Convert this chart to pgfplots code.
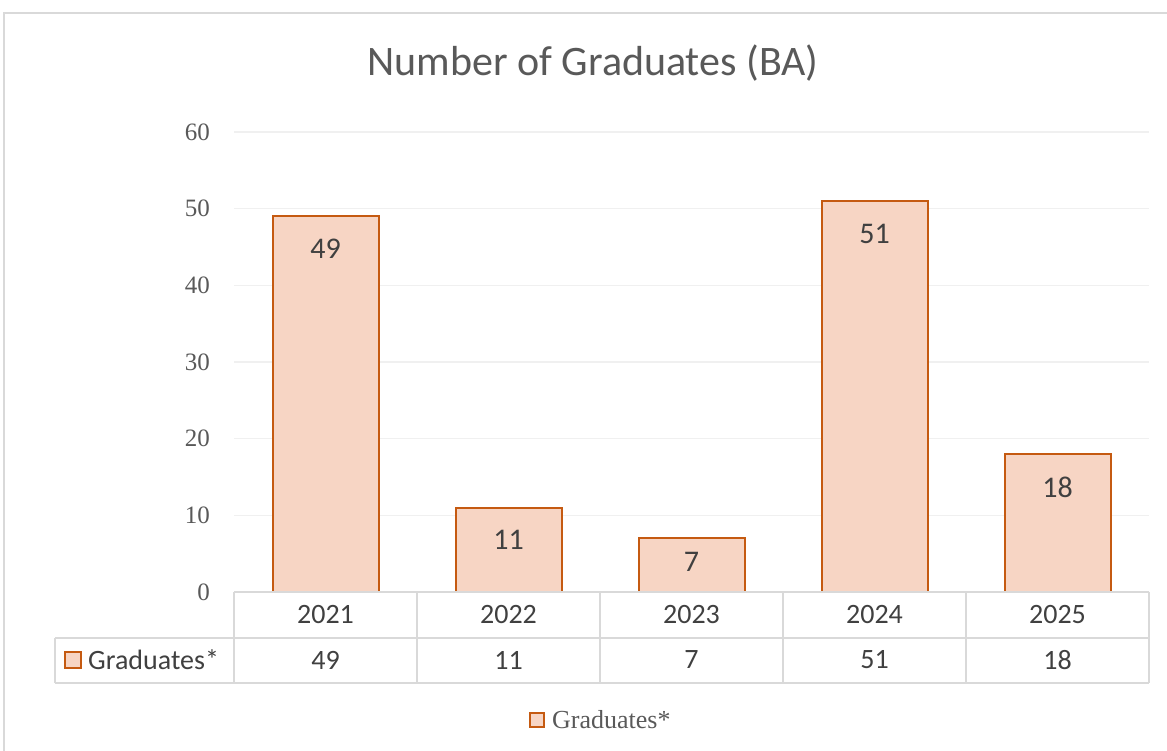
\documentclass[border=0pt]{standalone}
\usepackage{pgfplots}
\pgfplotsset{compat=1.18}
\usepackage{pgfplotstable}
\usepackage{fontspec}
\setmainfont{Carlito}
\newfontfamily\serifnum{Liberation Serif}
\definecolor{barfill}{RGB}{247,213,196}
\definecolor{barline}{RGB}{197,90,17}
\definecolor{gridc}{RGB}{240,240,240}
\definecolor{tablec}{RGB}{217,217,217}
\definecolor{txt}{RGB}{64,64,64}
\definecolor{tickc}{RGB}{89,89,89}

\pgfplotstableread{
x year val off
0 2021 49 22
1 2022 11 22
2 2023 7 13
3 2024 51 22
4 2025 18 22
}\datatable

\begin{document}
\begin{tikzpicture}[x=1pt,y=1pt]
\path[use as bounding box] (0,0) rectangle (1167,751);
\draw[tablec, line width=2pt] (4,-5) -- (4,738) -- (1175,738);
\node[font=\fontsize{42}{50}\selectfont, text=tickc] at (593,688) {Number of Graduates (BA)};
\begin{axis}[
  at={(234pt,159pt)}, anchor=south west,
  scale only axis, width=915pt, height=460pt,
  xmin=-0.5, xmax=4.5, ymin=0, ymax=60,
  ytick={0,10,...,60},
  xtick={0,...,4},
  xticklabels={2021,2022,2023,2024,2025},
  axis line style={draw=none},
  major tick length=0pt,
  ymajorgrids, grid style={gridc, line width=1.5pt},
  clip=false,
  /pgf/number format/assume math mode=true,
  yticklabel style={font=\serifnum\fontsize{25}{30}\selectfont, text=tickc, inner sep=0pt, anchor=east, xshift=-24pt},
  xticklabel style={font=\fontsize{28}{34}\selectfont, text=txt, inner sep=0pt, anchor=center, yshift=-23pt},
  legend style={at={(0.3224,-0.2783)}, anchor=west, draw=none, fill=none, inner sep=0pt,
    font=\serifnum\fontsize{26}{31}\selectfont, text=tickc,
    /tikz/every odd column/.append style={column sep=5pt}},
]
\addplot[ybar, bar width=106pt, fill=barfill, draw=barline, line width=2pt,
  visualization depends on={\thisrow{off}\as\laboff},
  nodes near coords,
  every node near coord/.append style={anchor=north, inner sep=0pt, yshift=-\laboff pt,
    font=\fontsize{30}{36}\selectfont, text=txt},
  legend image code/.code={\draw[fill=barfill, draw=barline, line width=2pt] (0pt,-7pt) rectangle (14pt,7pt);}]
  table[x=x, y=val]{\datatable};
\addlegendentry{Graduates*}
\addplot[draw=none, mark=none, forget plot, nodes near coords, point meta=explicit,
  every node near coord/.append style={anchor=center, inner sep=0pt,
    font=\fontsize{28}{34}\selectfont, text=txt}]
  table[x=x, y expr=-8.87, meta=val]{\datatable};
\end{axis}
% data table grid
\begin{scope}[tablec, line width=2pt]
\draw (234,159) -- (1149,159);
\draw (55,113) -- (1149,113);
\draw (55,68) -- (1149,68);
\foreach \xx in {234,417,600,783,966,1149} \draw (\xx,159) -- (\xx,68);
\draw (55,113) -- (55,68);
\end{scope}
\draw[fill=barfill, draw=barline, line width=2pt] (65,83) rectangle (81,99);
\node[anchor=west, inner sep=0pt, font=\fontsize{28}{34}\selectfont, text=txt] at (88,91) {Graduates*};
\end{tikzpicture}
\end{document}
